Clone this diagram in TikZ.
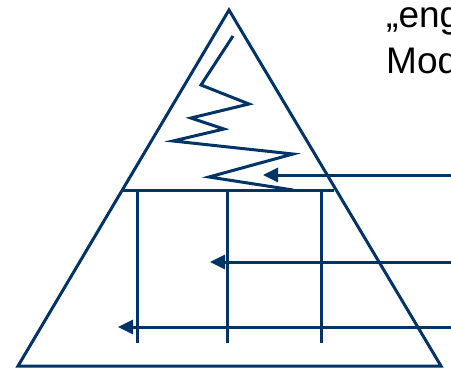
\documentclass[tikz,border=0pt]{standalone}
\usepackage{fontspec}
\setmainfont{Liberation Sans}
\usetikzlibrary{arrows.meta}
\definecolor{navy}{RGB}{0,51,102}
\tikzset{
  line/.style={draw=navy, line width=3bp},
  arrowline/.style={line, -{Triangle[length=15bp,width=14bp]}},
  label/.style={inner sep=0pt, anchor=base west, text=black, font=\fontsize{37bp}{47bp}\selectfont}
}
\begin{document}
\begin{tikzpicture}[x=1bp,y=-1bp]
\useasboundingbox (0,0) rectangle (451,367);
\clip (0,0) rectangle (451,367);
% triangle
\coordinate (apex) at (229,10);
\coordinate (bl) at (18,366);
\coordinate (br) at (441,366);
\draw[line] (apex) -- (bl) -- (br) -- cycle;
% horizontal line
\coordinate (hl) at (123,190);
\coordinate (hr) at (334,190);
\draw[line] (hl) -- (hr);
% vertical lines
\foreach \n/\x in {v1/137, v2/227, v3/321} {
  \coordinate (\n t) at (\x,190);
  \coordinate (\n b) at (\x,343);
  \draw[line] (\n t) -- (\n b);
}
% zigzag
\coordinate (z0) at (233,36);
\coordinate (z1) at (201,85);
\coordinate (z2) at (249,104);
\coordinate (z3) at (191,118);
\coordinate (z4) at (224,129);
\coordinate (z5) at (173,141);
\coordinate (z6) at (293,154);
\coordinate (z7) at (209,177);
\coordinate (z8) at (293,190);
\draw[line] (z0) -- (z1) -- (z2) -- (z3) -- (z4) -- (z5) -- (z6) -- (z7) -- (z8);
% arrows
\coordinate (a1s) at (452,175);
\coordinate (a1e) at (263,175);
\coordinate (a2s) at (452,262);
\coordinate (a2e) at (210,262);
\coordinate (a3s) at (452,327);
\coordinate (a3e) at (118,327);
\draw[arrowline] (a1s) -- (a1e);
\draw[arrowline] (a2s) -- (a2e);
\draw[arrowline] (a3s) -- (a3e);
% text
\node[label] (t1) at (386,27) {„eng};
\node[label] (t2) at (386,73) {Mod};
\end{tikzpicture}
\end{document}
